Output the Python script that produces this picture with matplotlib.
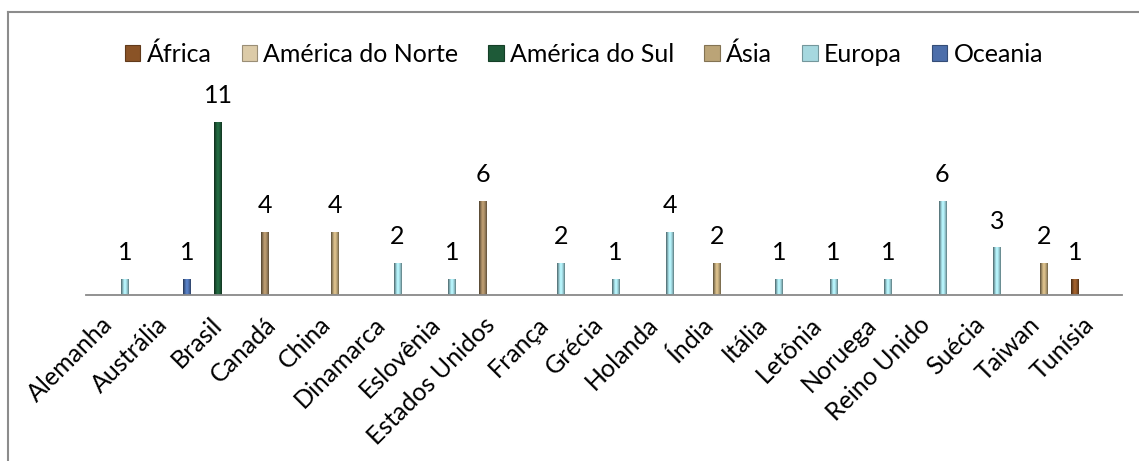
import numpy as np
import matplotlib
matplotlib.use("Agg")
import matplotlib.pyplot as plt
from matplotlib.patches import Patch
from matplotlib.lines import Line2D
from matplotlib.transforms import ScaledTranslation

countries = ["Alemanha", "Austrália", "Brasil", "Canadá", "China", "Dinamarca",
             "Eslovênia", "Estados Unidos", "França", "Grécia", "Holanda", "Índia",
             "Itália", "Letônia", "Noruega", "Reino Unido", "Suécia", "Taiwan", "Tunísia"]
regions = ["África", "América do Norte", "América do Sul", "Ásia", "Europa", "Oceania"]
# region of each country (index into regions) and number of works
country_region = [4, 5, 2, 1, 3, 4, 4, 1, 4, 4, 4, 3, 4, 4, 4, 4, 4, 3, 0]
counts = [1, 1, 11, 4, 4, 2, 1, 6, 2, 1, 4, 2, 1, 1, 1, 6, 3, 2, 1]
region_colors = ["#8A5326", "#A08560", "#1E5A38", "#BBA477", "#9DD2DA", "#4C6EAA"]
legend_colors = ["#8A5326", "#DCCBA8", "#1E5A38", "#BBA477", "#A6D8DF", "#4C6EAA"]

plt.rcParams["font.family"] = ["Lato", "DejaVu Sans"]

W, H = 1139, 461
fig = plt.figure(figsize=(W / 100, H / 100), dpi=100)
ax = fig.add_axes([86 / W, 1 - 294.5 / H, 1035.5 / W, 188 / H])

nser = len(regions)
bw = 1 / (nser + 1)
x = np.arange(len(countries))

shade = np.array([0.55, 0.75, 0.95, 1.12, 1.2, 1.12, 1.0, 0.85, 0.65])
for i, (r, v) in enumerate(zip(country_region, counts)):
    xpos = x[i] + (r - (nser - 1) / 2) * bw
    bars = ax.bar(xpos, v, width=bw, color=region_colors[r], linewidth=0, zorder=2)
    b = bars[0]
    base = np.array(matplotlib.colors.to_rgb(region_colors[r]))
    img = np.clip(shade[:, None] * base[None, :], 0, 1)[None, :, :]
    im = ax.imshow(img, extent=(b.get_x(), b.get_x() + b.get_width(), 0, v),
                   aspect="auto", zorder=3, interpolation="bilinear")
    im.set_clip_path(b)
    ax.annotate(str(v), (xpos, v), xytext=(0, 13.5), textcoords="offset points",
                ha="center", va="baseline", fontsize=18, color="black")

ax.set_xlim(-0.5, len(countries) - 0.5)
ax.set_ylim(0, 12)
ax.set_yticks([])
for s in ["top", "right", "left"]:
    ax.spines[s].set_visible(False)
ax.spines["bottom"].set_color("#898989")
ax.spines["bottom"].set_linewidth(1.3)
ax.spines["bottom"].set_zorder(4)
ax.set_xticks(x)
ax.set_xticklabels(countries, rotation=45, ha="right", va="center",
                   rotation_mode="anchor", fontsize=18)
ax.tick_params(axis="x", length=0, pad=19)
for lab in ax.get_xticklabels():
    lab.set_transform(lab.get_transform() + ScaledTranslation(-4 / 100, 0, fig.dpi_scale_trans))

handles = [Patch(facecolor=c, edgecolor=matplotlib.colors.to_hex(np.array(matplotlib.colors.to_rgb(c)) * 0.7),
                 linewidth=0.8) for c in legend_colors]
fig.legend(handles, regions, loc="center", bbox_to_anchor=(584 / W, 1 - 54 / H),
           ncol=6, frameon=False, fontsize=18, handlelength=0.62, handleheight=0.62,
           handletextpad=0.25, columnspacing=1.2, borderaxespad=0)

fig.add_artist(Line2D([8 / W, 8 / W], [-0.02, 1 - 12 / H], color="#8C8C8C", lw=1.5,
                      transform=fig.transFigure))
fig.add_artist(Line2D([8 / W, 1.02], [1 - 12 / H, 1 - 12 / H], color="#8C8C8C", lw=1.5,
                      transform=fig.transFigure))

fig.savefig("out.png", dpi=100)
